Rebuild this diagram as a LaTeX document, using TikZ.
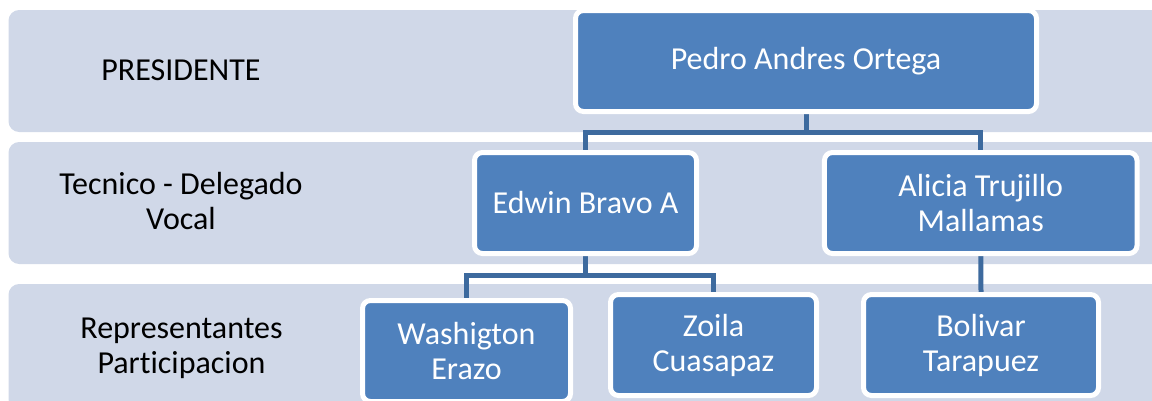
\documentclass[tikz,border=0pt]{standalone}
\usepackage{fontspec}
\setmainfont{Carlito}[Ligatures=NoCommon]
\definecolor{bandgray}{HTML}{D0D8E8}
\definecolor{boxblue}{HTML}{4F81BD}
\definecolor{linkblue}{HTML}{3D6A9E}
\newcommand{\orgfont}{\fontsize{24pt}{26.25pt}\selectfont}
\pgfdeclarelayer{bands}
\pgfdeclarelayer{links}
\pgfsetlayers{bands,links,main}
\tikzset{
  member/.style={draw=white, line width=3.75pt, fill=boxblue, rounded corners=6pt,
    text=white, align=center, font=\orgfont, inner sep=0pt, minimum height=75.75pt},
  level/.style={align=center, font=\orgfont, inner sep=0pt},
  band/.style={fill=bandgray, rounded corners=8pt},
  link/.style={draw=linkblue, line width=3.75pt},
}
\begin{document}
\begin{tikzpicture}[x=0.75pt, y=-0.75pt]
    \useasboundingbox (0,0) rectangle (1152,400);

    \begin{pgfonlayer}{bands}
    \fill[band] (8.5,10) rectangle (1170,132);
    \fill[band] (8.5,142) rectangle (1170,264);
    \fill[band] (8.5,284) rectangle (1170,410);
    \end{pgfonlayer}

    \node[level] (presidente) at (181,70.7) {PRESIDENTE};
    \node[level] (tecnico) at (181,201.5) {Tecnico - Delegado\\Vocal};
    \node[level] (representantes) at (181.5,348.5) {Representantes\\Participacion};

    \node[member, minimum width=345.75pt] (pedro) at (806,61) {Pedro Andres Ortega};
    \node[member, minimum width=166.5pt] (edwin) at (585.5,203) {Edwin Bravo A};
    \node[member, minimum width=234.4pt] (alicia) at (980.75,203) {Alicia Trujillo\\Mallamas};
    \node[member, minimum width=156pt] (washigton) at (466.5,351) {Washigton\\Erazo};
    \node[member, minimum width=154.5pt] (zoila) at (713.5,345) {Zoila\\Cuasapaz};
    \node[member, minimum width=176.25pt] (bolivar) at (981,345) {Bolivar\\Tarapuez};

    \coordinate (topbus) at (806,132);
    \coordinate (midbus) at (585.5,275);

    \begin{pgfonlayer}{links}
    \draw[link] (pedro.south) -- (topbus) -| (edwin.north);
    \draw[link] (topbus) -| (alicia.north);
    \draw[link] (edwin.south) -- (midbus) -| (washigton.north);
    \draw[link] (midbus) -| (zoila.north);
    \draw[link] (alicia.south) -- (bolivar.north);
    \end{pgfonlayer}
\end{tikzpicture}
\end{document}
